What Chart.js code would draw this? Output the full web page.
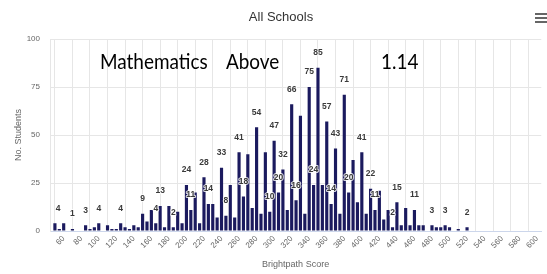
<!DOCTYPE html>
<html>
<head>
<meta charset="utf-8">
<script src="https://cdn.jsdelivr.net/npm/chart.js@4.4.1/dist/chart.umd.min.js"></script>
<style>
  html, body { margin: 0; padding: 0; background: #fff; }
  #wrap { position: relative; width: 547px; height: 274px; overflow: hidden; }
  #chart { position: absolute; left: 0; top: 0; }
  .title { position: absolute; left: 0; width: 562px; top: 9px; text-align: center;
           font: 13px "Liberation Sans", Arial, sans-serif; color: #333; }
  .note { position: absolute; top: 50px; font: 22px Lato, sans-serif; color: #000;
          line-height: 22px; white-space: nowrap; transform: scaleX(0.86); transform-origin: 0 0; }
  .burger { position: absolute; left: 535px; top: 13px; width: 12px; }
  .burger span { display: block; height: 2px; background: #666; margin-bottom: 2px; }
</style>
</head>
<body>
<div id="wrap">
  <canvas id="chart" width="547" height="274"></canvas>
  <div class="title">All Schools</div>
  <div class="note" style="left:100px">Mathematics</div>
  <div class="note" style="left:226px">Above</div>
  <div class="note" style="left:381px">1.14</div>
  <div class="burger"><span></span><span></span><span></span></div>
</div>
<script>
// score buckets (5 points wide) and number of students in each
const scores = [50, 55, 60, 65, 70, 75, 80, 85, 90, 95, 100, 105, 110, 115, 120, 125, 130, 135, 140, 145,
  150, 155, 160, 165, 170, 175, 180, 185, 190, 195, 200, 205, 210, 215, 220, 225, 230, 235, 240, 245,
  250, 255, 260, 265, 270, 275, 280, 285, 290, 295, 300, 305, 310, 315, 320, 325, 330, 335, 340, 345,
  350, 355, 360, 365, 370, 375, 380, 385, 390, 395, 400, 405, 410, 415, 420, 425, 430, 435, 440, 445,
  450, 455, 460, 465, 470, 475, 480, 485, 490, 495, 500, 505, 510, 515, 520];
const students = [4, 1, 4, 0, 1, 0, 0, 3, 1, 2, 4, 0, 3, 1, 1, 4, 2, 1, 3, 2,
  9, 5, 11, 4, 13, 2, 13, 2, 10, 4, 24, 11, 20, 4, 28, 14, 14, 7, 33, 8,
  24, 7, 41, 18, 40, 12, 54, 9, 41, 10, 47, 20, 32, 11, 66, 16, 60, 9, 75, 24,
  85, 24, 57, 14, 43, 9, 71, 20, 37, 15, 41, 9, 22, 11, 21, 6, 11, 2, 15, 3,
  12, 3, 11, 3, 3, 0, 3, 2, 2, 3, 2, 0, 1, 0, 2];
// buckets whose value label is visible in the original (others are hidden by overlap)
const labelledScores = [50, 70, 85, 100, 125, 150, 165, 170, 185, 200, 205, 220, 225, 240, 245,
  260, 265, 280, 295, 300, 305, 310, 320, 325, 340, 345, 350, 360, 365, 370, 380, 385, 400,
  410, 415, 435, 440, 460, 480, 495, 520];
const xTicks = [60, 80, 100, 120, 140, 160, 180, 200, 220, 240, 260, 280, 300, 320, 340, 360,
  380, 400, 420, 440, 460, 480, 500, 520, 540, 560, 580, 600];
const yTicks = [0, 25, 50, 75, 100];

const FONT = '"Liberation Sans", Arial, sans-serif';
const GRID = '#e6e6e6';

// value labels above the bars, pushed inside the plot when they would overflow it
const barLabels = {
  id: 'barLabels',
  afterDatasetsDraw(chart) {
    const { ctx, chartArea } = chart;
    const meta = chart.getDatasetMeta(0);
    ctx.save();
    ctx.font = 'bold 8.5px ' + FONT;
    ctx.textAlign = 'center';
    ctx.textBaseline = 'middle';
    ctx.lineJoin = 'round';
    meta.data.forEach((bar, i) => {
      if (!labelledScores.includes(scores[i])) return;
      const txt = String(students[i]);
      const x = Math.max(bar.x, chartArea.left + 8);
      const y = bar.y - 15;
      ctx.strokeStyle = 'rgba(255,255,255,0.8)';
      ctx.lineWidth = 2;
      ctx.strokeText(txt, x, y);
      ctx.fillStyle = '#3a3a3a';
      ctx.fillText(txt, x, y);
    });
    ctx.restore();
  }
};

new Chart(document.getElementById('chart'), {
  type: 'bar',
  data: {
    datasets: [{
      data: scores.map((s, i) => ({ x: s, y: students[i] })),
      backgroundColor: '#1b1a5e',
      borderWidth: 0,
      barPercentage: 0.9,
      categoryPercentage: 0.8
    }]
  },
  options: {
    responsive: false,
    animation: false,
    events: [],
    layout: { padding: { top: 39, right: 1, left: 0, bottom: 0 } },
    plugins: { legend: { display: false }, title: { display: false }, tooltip: { enabled: false } },
    scales: {
      x: {
        type: 'linear',
        min: 44.4,
        max: 604.6,
        bounds: 'data',
        offset: false,
        afterBuildTicks: s => { s.ticks = xTicks.map(v => ({ value: v })); },
        afterFit: s => { s.height = 43; },
        ticks: { autoSkip: false, minRotation: 45, maxRotation: 45, color: '#666', padding: 3,
                 font: { size: 8, family: FONT } },
        grid: { color: GRID, drawTicks: false },
        border: { color: '#ccd6eb' },
        title: { display: true, text: 'Brightpath Score', color: '#666',
                 font: { size: 9, family: FONT }, padding: { top: 0, bottom: 4 } }
      },
      y: {
        min: 0,
        max: 100,
        afterBuildTicks: s => { s.ticks = yTicks.map(v => ({ value: v })); },
        afterFit: s => { s.width = 50; },
        ticks: { color: '#666', padding: 10, font: { size: 8, family: FONT } },
        grid: { color: GRID, drawTicks: false },
        border: { display: true, color: GRID },
        title: { display: true, text: 'No. Students', color: '#666',
                 font: { size: 9, family: FONT }, padding: { top: 13, bottom: 0 } }
      }
    }
  },
  plugins: [barLabels]
});
</script>
</body>
</html>
